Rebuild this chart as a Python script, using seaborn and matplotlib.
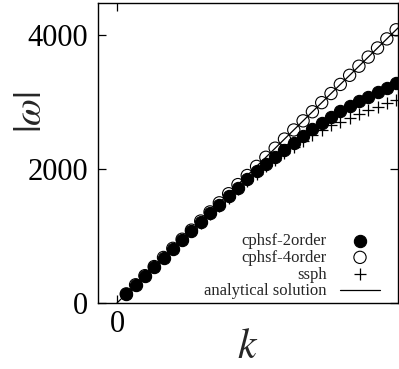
import matplotlib
matplotlib.use("Agg")
import matplotlib.pyplot as plt
import seaborn as sns
import pandas as pd

# ---- data ----
k_index = list(range(1, 31))
cphsf_2order = [135, 265, 400, 535, 670, 810, 945, 1080, 1210, 1340,
                1465, 1595, 1720, 1845, 1965, 2080, 2185, 2290, 2395, 2495,
                2595, 2690, 2780, 2860, 2935, 3010, 3075, 3145, 3210, 3280]
cphsf_4order = [136, 272, 408, 544, 680, 816, 952, 1088, 1224, 1360,
                1496, 1632, 1768, 1904, 2040, 2176, 2312, 2448, 2584, 2720,
                2856, 2992, 3128, 3264, 3400, 3536, 3672, 3808, 3944, 4080]
ssph = [135, 265, 400, 533, 667, 805, 938, 1070, 1198, 1325,
        1448, 1575, 1695, 1815, 1930, 2040, 2140, 2240, 2335, 2425,
        2510, 2590, 2660, 2710, 2765, 2820, 2875, 2930, 2980, 3030]
analytic_k = [0, 31]
analytic_w = [0, 4216]
x_ticks = [0]
x_tick_labels = ["0"]
y_ticks = [0, 2000, 4000]
y_tick_labels = ["0", "2000", "4000"]

sns.set_style("ticks")
plt.rcParams["font.family"] = ["Liberation Serif", "DejaVu Serif"]
plt.rcParams["mathtext.fontset"] = "stix"

fig = plt.figure(figsize=(3.99, 3.69), dpi=100)
ax = fig.add_axes([98 / 399, 66 / 369, 300 / 399, 300 / 369])

df2 = pd.DataFrame({"k": k_index, "w": cphsf_2order})
df4 = pd.DataFrame({"k": k_index, "w": cphsf_4order})
dfs = pd.DataFrame({"k": k_index, "w": ssph})
dfa = pd.DataFrame({"k": analytic_k, "w": analytic_w})

sns.scatterplot(data=df2, x="k", y="w", ax=ax, marker="o", s=78,
                color="black", edgecolor="black", linewidth=0.8,
                label="cphsf-2order", zorder=3)
sns.scatterplot(data=df4, x="k", y="w", ax=ax, marker="o", s=78,
                facecolors="none", edgecolor="black", linewidth=0.8,
                label="cphsf-4order", zorder=4)
sns.scatterplot(data=dfs, x="k", y="w", ax=ax, marker="+", s=80,
                color="black", linewidth=0.9, label="ssph", zorder=5)
sns.lineplot(data=dfa, x="k", y="w", ax=ax, color="black", linewidth=0.9,
             label="analytical solution", zorder=6)

ax.set_xlim(-2.04, 30.2)
ax.set_ylim(0, 4480)
ax.set_xticks(x_ticks)
ax.set_xticklabels(x_tick_labels)
ax.set_yticks(y_ticks)
ax.set_yticklabels(y_tick_labels)
ax.tick_params(direction="in", length=6, width=0.9, top=True, right=True,
               labelsize=22, colors="black")
ax.tick_params(axis="y", pad=7)
ax.tick_params(axis="x", pad=5)
for sp in ax.spines.values():
    sp.set_linewidth(1.0)
    sp.set_color("black")

ax.set_xlabel("$k$", fontsize=30)
ax.set_ylabel(r"$|\omega|$", fontsize=28)
ax.xaxis.set_label_coords(0.497, -0.085)
ax.yaxis.set_label_coords(-0.16, 0.635)

leg = ax.legend(loc="lower right", bbox_to_anchor=(0.94, 0.012),
                frameon=False, markerfirst=False, fontsize=12,
                handlelength=2.4, handletextpad=0.8, labelspacing=0.05,
                borderpad=0, borderaxespad=0)

fig.savefig("out.png", dpi=100)
